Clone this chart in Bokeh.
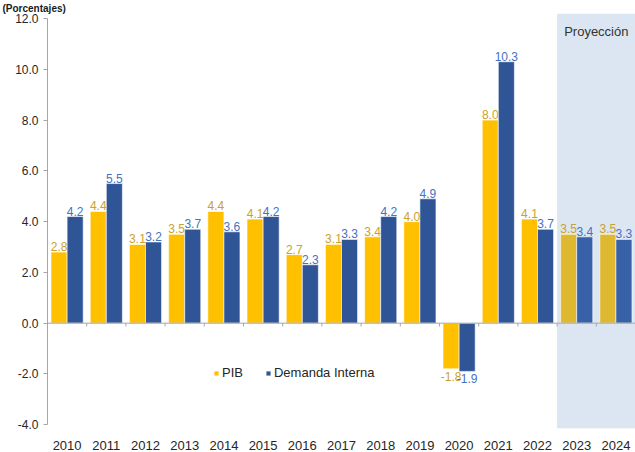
from bokeh.plotting import figure
from bokeh.models import (ColumnDataSource, FactorRange, Range1d, BoxAnnotation, Span, Label,
                          Legend, LegendItem, FixedTicker, NumeralTickFormatter)
from bokeh.transform import dodge
from bokeh.core.properties import value
from bokeh.embed import file_html
from bokeh.resources import INLINE

# ---- data ----
years = ["2010", "2011", "2012", "2013", "2014", "2015", "2016", "2017",
         "2018", "2019", "2020", "2021", "2022", "2023", "2024"]
pib = [2.8, 4.4, 3.1, 3.5, 4.4, 4.1, 2.7, 3.1, 3.4, 4.0, -1.8, 8.0, 4.1, 3.5, 3.5]
demanda = [4.2, 5.5, 3.2, 3.7, 3.6, 4.2, 2.3, 3.3, 4.2, 4.9, -1.9, 10.3, 3.7, 3.4, 3.3]
proyeccion_years = ["2023", "2024"]
y_ticks = [-4, -2, 0, 2, 4, 6, 8, 10, 12]
series_names = ["PIB", "Demanda Interna"]
shade_label = "Proyección"
title_text = "(Porcentajes)"

# ---- styles ----
FONT = "Liberation Sans"
PIB_C, PIB_PROJ_C = "#FFC000", "#DDB830"
DI_C, DI_PROJ_C = "#2F5597", "#3762A8"
PIB_LAB_C, DI_LAB_C = "#C9A12E", "#4472C4"
AXIS_C = "#A6A6A6"
TEXT_C = "#262626"

W, H = 635, 452
B_LEFT, B_TOP, B_BOTTOM = 47, 13, 20
Y0, Y1 = -4.15, 12.2

proj = [y in proyeccion_years for y in years]

def lab_cols(vals):
    return dict(
        txt=["{:.1f}".format(v) for v in vals],
        base=["bottom" if v >= 0 else "top" for v in vals],
        off=[-1 if v >= 0 else 3 for v in vals],
    )

pl = lab_cols(pib)
dl = lab_cols(demanda)
src = ColumnDataSource(dict(
    year=years, pib=pib, di=demanda,
    pib_c=[PIB_PROJ_C if p else PIB_C for p in proj],
    di_c=[DI_PROJ_C if p else DI_C for p in proj],
    pib_txt=pl["txt"], pib_base=pl["base"], pib_off=pl["off"],
    di_txt=dl["txt"], di_base=dl["base"], di_off=dl["off"],
))

x_range = FactorRange(*years, range_padding=0)
p = figure(x_range=x_range, y_range=Range1d(Y0, Y1),
           width=W, height=H, output_backend="svg", toolbar_location=None,
           min_border_left=B_LEFT, min_border_right=0, min_border_top=B_TOP,
           min_border_bottom=B_BOTTOM)
p.outline_line_color = None
p.xgrid.grid_line_color = None
p.ygrid.grid_line_color = None

# title (small, fully visible in the top strip)
p.title.text = title_text
p.title.align = "left"
p.title.offset = -B_LEFT + 2
p.title.standoff = 0
p.title.text_font = FONT
p.title.text_font_size = "10px"
p.title.text_font_style = "bold"
p.title.text_color = "#1a1a1a"

# projection shading
first_proj = years.index(proyeccion_years[0])
p.add_layout(BoxAnnotation(left=first_proj, fill_color="#DCE6F2", fill_alpha=1.0,
                           line_color=None, level="underlay"))
p.add_layout(Label(x=first_proj + len(proyeccion_years) / 2, y=max(y_ticks) - 0.5,
                   text=shade_label, text_align="center", text_baseline="middle",
                   text_font=FONT, text_font_size="13px", text_color="#333333"))

# zero line + boundary ticks
p.add_layout(Span(location=0, dimension="width", line_color=AXIS_C, line_width=1))
bounds = list(range(1, len(years)))
p.segment(x0=bounds, x1=bounds, y0=[0] * len(bounds), y1=[-0.13] * len(bounds),
          line_color=AXIS_C, line_width=1)

w = 0.41
r1 = p.vbar(x=dodge("year", -w / 2, range=x_range), top="pib", width=w, source=src,
            fill_color="pib_c", line_color="white", line_width=0.6)
r2 = p.vbar(x=dodge("year", w / 2, range=x_range), top="di", width=w, source=src,
            fill_color="di_c", line_color="white", line_width=0.6)

p.text(x=dodge("year", -w / 2, range=x_range), y="pib", text="pib_txt", source=src,
       text_align="center", text_baseline="pib_base", y_offset="pib_off",
       text_font=value(FONT), text_font_size="12px", text_color=PIB_LAB_C)
p.text(x=dodge("year", w / 2, range=x_range), y="di", text="di_txt", source=src,
       text_align="center", text_baseline="di_base", y_offset="di_off",
       text_font=value(FONT), text_font_size="12px", text_color=DI_LAB_C)

# legend
legend = Legend(items=[LegendItem(label=series_names[0], renderers=[r1], index=0),
                       LegendItem(label=series_names[1], renderers=[r2], index=0)],
                orientation="horizontal", location=(166, 48),
                background_fill_alpha=0, border_line_color=None,
                glyph_width=6, glyph_height=6, label_standoff=3, spacing=22,
                label_text_font=FONT, label_text_font_size="13px", label_text_color=TEXT_C,
                padding=0, margin=0)
p.add_layout(legend)

# axes
p.xaxis.axis_line_color = None
p.xaxis.major_tick_line_color = None
p.xaxis.minor_tick_line_color = None
p.xaxis.major_label_standoff = 6
p.xaxis.major_label_text_font = FONT
p.xaxis.major_label_text_font_size = "13px"
p.xaxis.major_label_text_color = TEXT_C

p.yaxis.ticker = FixedTicker(ticks=y_ticks)
p.yaxis.bounds = (min(y_ticks), max(y_ticks))
p.yaxis.formatter = NumeralTickFormatter(format="0.0")
p.yaxis.axis_line_color = AXIS_C
p.yaxis.major_tick_line_color = AXIS_C
p.yaxis.major_tick_out = 4
p.yaxis.major_tick_in = 0
p.yaxis.minor_tick_line_color = None
p.yaxis.major_label_standoff = 5
p.yaxis.major_label_text_font = FONT
p.yaxis.major_label_text_font_size = "12px"
p.yaxis.major_label_text_color = TEXT_C

open("out.html", "w").write(file_html(p, INLINE))
